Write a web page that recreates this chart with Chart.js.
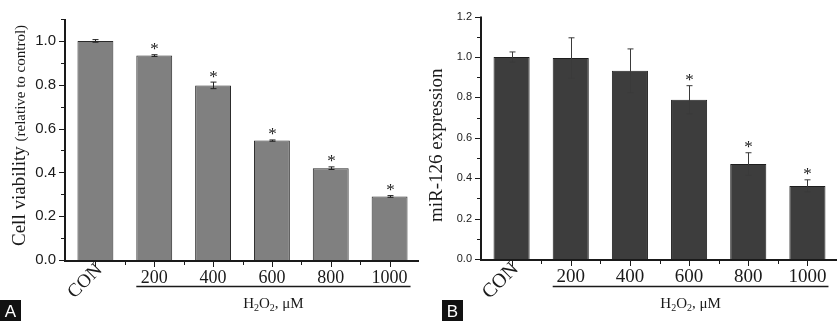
<!DOCTYPE html>
<html><head><meta charset="utf-8">
<script src="https://cdn.jsdelivr.net/npm/chart.js@4.4.0/dist/chart.umd.min.js"></script>
<style>
html,body{margin:0;padding:0;background:#fff;}
#wrap{position:relative;width:837px;height:321px;overflow:hidden;}
.panel{position:absolute;top:0;height:321px;}
#pa{left:0;width:420px;}
#pb{left:420px;width:417px;}
</style></head><body>
<div id="wrap"><div class="panel" id="pa"><canvas id="ca"></canvas></div><div class="panel" id="pb"><canvas id="cb"></canvas></div></div>
<script>
const categories = ['CON', '200', '400', '600', '800', '1000'];
const viability = [1.0, 0.933, 0.797, 0.545, 0.419, 0.290];
const viabilityErr = [0.006, 0.004, 0.015, 0.003, 0.006, 0.004];
const viabilitySig = [false, true, true, true, true, true];
const mir126 = [1.0, 0.995, 0.932, 0.788, 0.470, 0.362];
const mir126Err = [0.025, 0.100, 0.108, 0.070, 0.056, 0.030];
const mir126Sig = [false, false, false, true, true, true];
const yTicksA = [0, 0.2, 0.4, 0.6, 0.8, 1.0];
const yTicksB = [0, 0.2, 0.4, 0.6, 0.8, 1.0, 1.2];
const yMinorA = [0.1, 0.3, 0.5, 0.7, 0.9, 1.1];
const yMinorB = [0.1, 0.3, 0.5, 0.7, 0.9, 1.1];

function serif(px){return px+'px "Liberation Serif", "Times New Roman", serif';}
function sans(px, w){return (w||'')+' '+px+'px "Liberation Sans", Arial, sans-serif';}

function panelPlugin(p){
  return {id:'panel'+p.letter, afterDatasetsDraw(chart){
    const ctx=chart.ctx, xs=chart.scales.x, ys=chart.scales.y, ca=chart.chartArea;
    const meta=chart.getDatasetMeta(0);
    ctx.save();
    // error bars + asterisks
    p.values.forEach((v,i)=>{
      const x=Math.round(meta.data[i].x)+0.5;
      const yt=ys.getPixelForValue(v+p.errs[i]);
      const yb=ys.getPixelForValue(v-p.errs[i]);
      ctx.strokeStyle=p.errColor; ctx.lineWidth=1;
      ctx.beginPath(); ctx.moveTo(x,yt); ctx.lineTo(x,yb);
      ctx.moveTo(x-p.cap,yt); ctx.lineTo(x+p.cap,yt);
      ctx.moveTo(x-p.cap,yb); ctx.lineTo(x+p.cap,yb); ctx.stroke();
      if(p.sig[i]){
        ctx.fillStyle='#1a1a1a'; ctx.font=serif(17); ctx.textAlign='center'; ctx.textBaseline='alphabetic';
        ctx.fillText('*', x, yt-0.5);
      }
    });
    // axes
    ctx.strokeStyle='#1a1a1a'; ctx.lineWidth=2;
    ctx.beginPath();
    ctx.moveTo(ca.left-1, ca.top); ctx.lineTo(ca.left-1, ca.bottom+2);
    ctx.moveTo(ca.left-2, ca.bottom+1); ctx.lineTo(ca.right, ca.bottom+1);
    ctx.stroke();
    ctx.lineWidth=1;
    ctx.beginPath();
    p.yticks.forEach(v=>{const y=Math.round(ys.getPixelForValue(v))+0.5; ctx.moveTo(ca.left-2,y); ctx.lineTo(ca.left-7,y);});
    p.yminor.forEach(v=>{if(v>p.ymax)return; const y=Math.round(ys.getPixelForValue(v))+0.5; ctx.moveTo(ca.left-2,y); ctx.lineTo(ca.left-5,y);});
    const n=categories.length, cw=(ca.right-ca.left)/n;
    for(let i=0;i<n;i++){
      const xc=Math.round(xs.getPixelForValue(i))+0.5;
      ctx.moveTo(xc,ca.bottom+2); ctx.lineTo(xc,ca.bottom+7);
      const xb=Math.round(ca.left+cw*(i+1))+0.5;
      if(i<n-1){ctx.moveTo(xb,ca.bottom+2); ctx.lineTo(xb,ca.bottom+5);}
    }
    ctx.stroke();
    // x labels
    ctx.fillStyle='#1a1a1a'; ctx.font=serif(p.xfs);
    categories.forEach((c,i)=>{
      const xc=xs.getPixelForValue(i);
      if(i===0){
        ctx.save(); ctx.translate(xc+4, ca.bottom+7); ctx.rotate(-Math.PI/4);
        ctx.font=serif(p.xfs+1);
        ctx.textAlign='right'; ctx.textBaseline='middle'; ctx.fillText(c,0,0); ctx.restore();
      } else {
        ctx.textAlign='center'; ctx.textBaseline='alphabetic'; ctx.fillText(c,xc,ca.bottom+23);
      }
    });
    // underline
    const b1=meta.data[1], b5=meta.data[n-1];
    const ux1=b1.x-b1.width/2, ux2=b5.x+b5.width/2+3;
    ctx.strokeStyle='#1a1a1a'; ctx.lineWidth=1.5;
    ctx.beginPath(); ctx.moveTo(ux1, 286.5); ctx.lineTo(ux2, 286.5); ctx.stroke();
    // H2O2, μM
    const parts=[['H',15,0],['2',10,3],['O',15,0],['2',10,3],[', \u03bcM',15,0]];
    let tw=0; parts.forEach(pt=>{ctx.font=serif(pt[1]); tw+=ctx.measureText(pt[0]).width;});
    let tx=(ux1+ux2)/2 - tw/2;
    ctx.textAlign='left'; ctx.textBaseline='alphabetic';
    parts.forEach(pt=>{ctx.font=serif(pt[1]); ctx.fillText(pt[0],tx,308+pt[2]); tx+=ctx.measureText(pt[0]).width;});
    // y title
    ctx.save(); ctx.translate(p.titleX, p.titleY); ctx.rotate(-Math.PI/2);
    ctx.textAlign='left'; ctx.textBaseline='alphabetic';
    let ox=0;
    p.title.forEach(tp=>{ctx.font=serif(tp[1]); ctx.fillText(tp[0],ox,0); ox+=ctx.measureText(tp[0]).width;});
    ctx.restore();
    // panel letter
    ctx.fillStyle='#111'; ctx.fillRect(p.boxX,300,21,21);
    ctx.fillStyle='#fff'; ctx.font=sans(17); ctx.textAlign='center'; ctx.textBaseline='alphabetic';
    ctx.fillText(p.letter,p.boxX+10.5,317);
    ctx.restore();
  }};
}

function build(canvasId, p){
  return new Chart(document.getElementById(canvasId), {
    type:'bar',
    data:{labels:categories, datasets:[{data:p.values, backgroundColor:p.fill, borderColor:p.border, borderWidth:1, barPercentage:0.61, categoryPercentage:1}]},
    options:{responsive:true, maintainAspectRatio:false, animation:false, events:[],
      layout:{padding:{top:p.padTop,right:p.padRight,left:0,bottom:0}},
      plugins:{legend:{display:false},tooltip:{enabled:false}},
      scales:{
        x:{grid:{display:false,drawTicks:false},border:{display:false},ticks:{display:false},afterFit(s){s.height=p.xh;}},
        y:{min:0,max:p.ymax,grid:{display:false,drawTicks:false},border:{display:false},
          afterBuildTicks(s){s.ticks=p.yticks.map(v=>({value:v}));},
          ticks:{autoSkip:false,font:{family:'"Liberation Sans", Arial, sans-serif',size:p.yfs},color:'#1a1a1a',padding:p.ypad,callback:v=>Number(v).toFixed(1)},
          afterFit(s){s.width=p.yw;}}
      }},
    plugins:[panelPlugin(p)]
  });
}

build('ca', {letter:'A', values:viability, errs:viabilityErr, sig:viabilitySig, yticks:yTicksA, yminor:yMinorA,
  ymax:1.1, fill:'#808080', border:'#2a2a2a', errColor:'#222', cap:3,
  padTop:7, padRight:1, xh:61, yw:66, yfs:15, ypad:10, xfs:18,
  title:[['Cell viability ',19],['(relative to control)',15]], titleX:25, titleY:246, boxX:0});
build('cb', {letter:'B', values:mir126, errs:mir126Err, sig:mir126Sig, yticks:yTicksB, yminor:yMinorB,
  ymax:1.2, fill:'#3d3d3d', border:'#1e1e1e', errColor:'#3a3a3a', cap:3,
  padTop:6, padRight:0, xh:62, yw:62, yfs:11, ypad:10, xfs:19,
  title:[['miR-126 expression',19]], titleX:22, titleY:222, boxX:22});
</script>
</body></html>
